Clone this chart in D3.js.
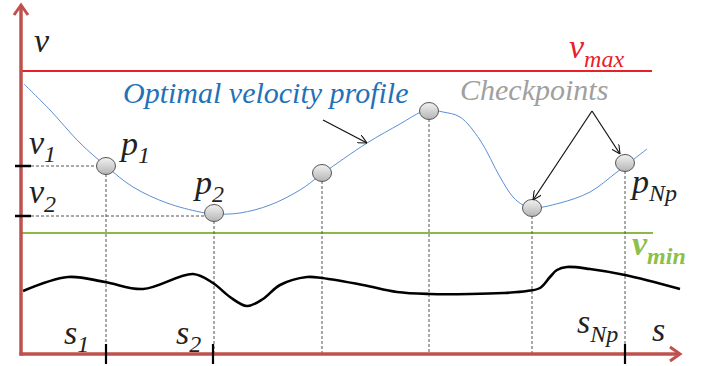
<!DOCTYPE html>
<html><head><meta charset="utf-8">
<script src="https://cdn.jsdelivr.net/npm/d3@7"></script>
</head><body style="margin:0;padding:0;background:#fff;">
<script>
// ---- data (s: distance units, v: velocity / elevation units) ----
const profileS = [3,29,59,85,112,146,179,193,219,249,279,301,346,379,400,408,422,439,459,479,492,502,511,539,569,596,626];
const profileV = [270,244,211,188,167,151,142,140,141,149,164,180,211,230,242,244,242,237,214,177,157,149,146,151,162,182,205];
const checkS = [85,193,301,408,511,604];
const checkV = [188,141,181,243,146,191];
const roadS = [2,47,84,122,172,192,209,226,242,259,286,301,342,376,409,449,482,506,519,529,536,546,569,604,659];
const roadV = [63,77,72,65,80,71,57,48,55,69,77,76,69,62,60,60,61,63,66,77,84,87,85,79,65];
const vMax = 283, vMin = 121;
const labeledS = [85,192,604];   // s1, s2, sNp ticks
const labeledV = [188,138];      // v1, v2 ticks

const W = 717, H = 366;
const x = d3.scaleLinear().domain([0,660]).range([21,681]);
const y = d3.scaleLinear().domain([0,354]).range([354,0]);

const svg = d3.select("body").append("svg").attr("width",W).attr("height",H).style("display","block");
const defs = svg.append("defs");
const g = defs.append("linearGradient").attr("id","ball").attr("x1",0).attr("y1",0).attr("x2",0).attr("y2",1);
g.append("stop").attr("offset","0%").attr("stop-color","#f2f2f2");
g.append("stop").attr("offset","100%").attr("stop-color","#b4b4b4");
defs.append("marker").attr("id","arr").attr("viewBox","0 0 10 10").attr("refX",10).attr("refY",5)
  .attr("markerWidth",9).attr("markerHeight",9).attr("markerUnits","userSpaceOnUse").attr("orient","auto")
  .append("path").attr("d","M0,0 L10,5 L0,10").attr("fill","none").attr("stroke","#111").attr("stroke-width",1.2);

// limits
svg.append("line").attr("x1",x(0)).attr("x2",x(631)).attr("y1",y(vMax)).attr("y2",y(vMax))
  .attr("stroke","#e8202a").attr("stroke-width",2.2);
svg.append("line").attr("x1",x(0)).attr("x2",x(632)).attr("y1",y(vMin)).attr("y2",y(vMin))
  .attr("stroke","#8cb84a").attr("stroke-width",2.2);

// dashed guides
const dash = svg.append("g").attr("stroke","#555").attr("stroke-width",1).attr("stroke-dasharray","3,2");
checkS.forEach((s,i)=>{
  dash.append("line").attr("x1",x(s)).attr("x2",x(s)).attr("y1",y(checkV[i])+8).attr("y2",y(0));
});
dash.append("line").attr("x1",x(10)).attr("x2",x(checkS[0])-9).attr("y1",y(labeledV[0])).attr("y2",y(labeledV[0]));
dash.append("line").attr("x1",x(10)).attr("x2",x(checkS[1])-9).attr("y1",y(labeledV[1])).attr("y2",y(labeledV[1]));

// road profile
svg.append("path").datum(roadS.map((s,i)=>[s,roadV[i]]))
  .attr("d",d3.line().x(d=>x(d[0])).y(d=>y(d[1])).curve(d3.curveCatmullRom.alpha(0.5)))
  .attr("fill","none").attr("stroke","#000").attr("stroke-width",2.6);

// velocity profile
svg.append("path").datum(profileS.map((s,i)=>[s,profileV[i]]))
  .attr("d",d3.line().x(d=>x(d[0])).y(d=>y(d[1])).curve(d3.curveCatmullRom.alpha(0.5)))
  .attr("fill","none").attr("stroke","#5b8fd2").attr("stroke-width",1);

// checkpoints
svg.append("g").selectAll("ellipse").data(checkS).join("ellipse")
  .attr("cx",d=>x(d)).attr("cy",(d,i)=>y(checkV[i])).attr("rx",9.5).attr("ry",8.5)
  .attr("fill","url(#ball)").attr("stroke","#555").attr("stroke-width",1);

// axes
const axisC = "#c0504d";
svg.append("line").attr("x1",x(0)).attr("x2",x(0)).attr("y1",y(-1.5)).attr("y2",y(348)).attr("stroke",axisC).attr("stroke-width",3.5);
svg.append("line").attr("x1",x(-1.5)).attr("x2",x(658)).attr("y1",y(0)).attr("y2",y(0)).attr("stroke",axisC).attr("stroke-width",3.5);
svg.append("path").attr("d",`M${x(0)-7},${y(339)} L${x(0)},${y(349)} L${x(0)+7},${y(339)}`)
  .attr("fill","none").attr("stroke",axisC).attr("stroke-width",3);
svg.append("path").attr("d",`M${x(649)},${y(7)} L${x(659)},${y(0)} L${x(649)},${y(-7)}`)
  .attr("fill","none").attr("stroke",axisC).attr("stroke-width",3);

// ticks
labeledV.forEach(v=>svg.append("line").attr("x1",x(-6)).attr("x2",x(10)).attr("y1",y(v)).attr("y2",y(v)).attr("stroke","#000").attr("stroke-width",2.5));
labeledS.forEach(s=>svg.append("line").attr("x1",x(s)).attr("x2",x(s)).attr("y1",y(10)).attr("y2",y(-10)).attr("stroke","#000").attr("stroke-width",2.2));

// arrows
svg.append("line").attr("x1",323).attr("y1",120).attr("x2",367).attr("y2",143).attr("stroke","#111").attr("stroke-width",1.2).attr("marker-end","url(#arr)");
svg.append("line").attr("x1",592).attr("y1",111).attr("x2",533).attr("y2",200).attr("stroke","#111").attr("stroke-width",1.2).attr("marker-end","url(#arr)");
svg.append("line").attr("x1",592).attr("y1",111).attr("x2",620).attr("y2",154).attr("stroke","#111").attr("stroke-width",1.2).attr("marker-end","url(#arr)");

// text helper: serif italic like the reference
function txt(px,py,size,color){
  return svg.append("text").attr("x",px).attr("y",py)
    .attr("font-family","Liberation Serif")
    .attr("font-style","italic")
    .attr("font-size",size)
    .attr("fill",color);
}
function lab(px,py,main,sub,opt={}){
  const t = txt(px,py,opt.size||34,opt.color||"#222");
  if(opt.bold) t.attr("font-weight","bold");
  t.append("tspan").text(main);
  if(sub) t.append("tspan").attr("dy",opt.dy||8).attr("font-size",opt.subSize||24).text(sub);
  return t;
}
lab(34,52,"v");
lab(569,58,"v","max",{color:"#e8202a",dy:9});
lab(29,154,"v","1");
lab(29,203,"v","2",{dy:9});
lab(121,155,"p","1");
lab(195,194,"p","2");
lab(632,193,"p","Np");
lab(632,255,"v","min",{color:"#8cc04a",bold:true,dy:9});
lab(64,344,"s","1");
lab(176,344,"s","2");
lab(577,333,"s","Np",{dy:9});
lab(652,341,"s");

txt(123,103,30,"#1f72b8").text("Optimal velocity profile");
txt(460,100,30,"#a0a0a0").text("Checkpoints");
</script>
</body></html>
